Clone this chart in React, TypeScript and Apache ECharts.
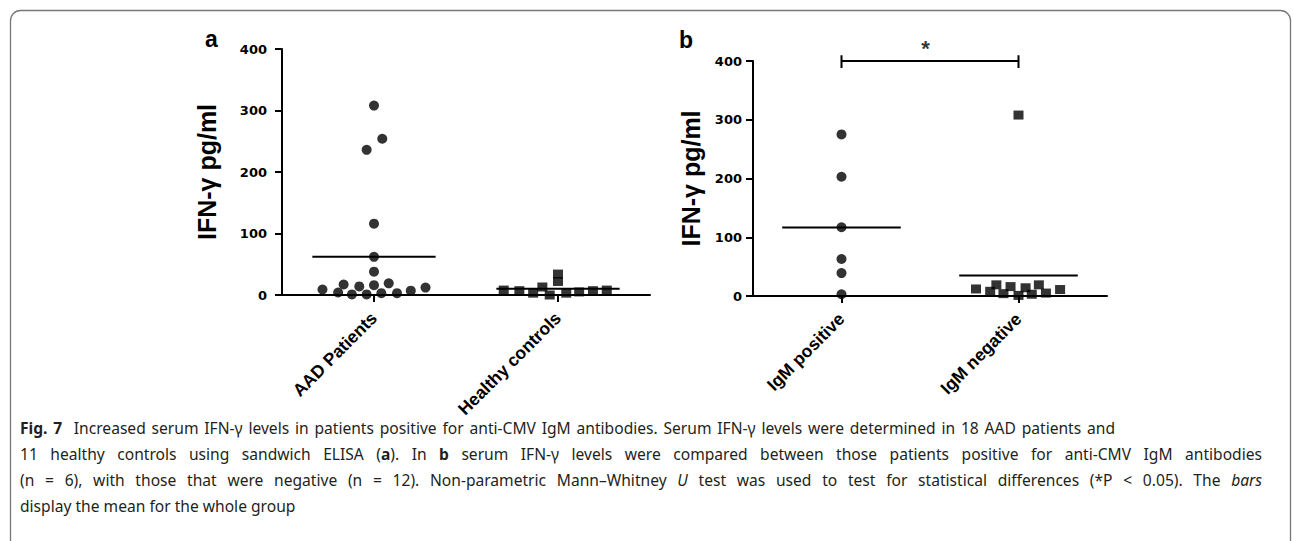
import React, { useEffect, useRef } from 'react';
import * as echarts from 'echarts';

// ---- data ----
const panelACategories = ['AAD Patients', 'Healthy controls'];
const panelBCategories = ['IgM positive', 'IgM negative'];
const yTickValues = [0, 100, 200, 300, 400];

const aadPatients = [308, 254, 236, 116, 62, 38, 9, 4, 17, 1, 14, 1, 16, 3, 19, 3, 7, 12];
const healthyControls = [8, 7, 3, 13, 0, 34, 22, 3, 5, 7, 8];
const igmPositive = [275, 203, 117, 63, 39, 3];
const igmNegative = [308, 12, 8, 19, 4, 16, 1, 14, 3, 19, 5, 11];

// horizontal dodge of overlapping points (in category widths)
const aadDodge = [0, 0.09, -0.08, 0, 0, 0, -0.56, -0.39, -0.33, -0.24, -0.16, -0.08, 0, 0.08, 0.16, 0.25, 0.4, 0.56];
const healthyDodge = [-0.59, -0.42, -0.27, -0.17, -0.09, 0, 0, 0.09, 0.23, 0.38, 0.53];
const igmPositiveDodge = [0, 0, 0, 0, 0, 0];
const igmNegativeDodge = [0, -0.48, -0.32, -0.25, -0.17, -0.09, 0, 0.08, 0.15, 0.23, 0.31, 0.47];

const significanceLevel = 400;
const significanceLabel = '*';
const yAxisTitle = 'IFN-γ pg/ml';

const captionLines = [
  '{b|Fig. 7}  Increased serum IFN-γ levels in patients positive for anti-CMV IgM antibodies. Serum IFN-γ levels were determined in 18 AAD patients and',
  '11 healthy controls using sandwich ELISA ({b|a}). In {b|b} serum IFN-γ levels were compared between those patients positive for anti-CMV IgM antibodies',
  '(n = 6), with those that were negative (n = 12). Non-parametric Mann–Whitney {i|U} test was used to test for statistical differences (*P < 0.05). The {i|bars}',
  'display the mean for the whole group',
];
// right edge each caption line is justified to (null = natural spacing)
const captionLineEnds = [1115, 1262, 1262, null];

// ---- helpers ----
const CAT_POS = [1, 3];
const MEAN_HALF = 0.67;
const mean = (a: number[]) => a.reduce((s, v) => s + v, 0) / a.length;

const TICK_FONT = '"DejaVu Sans", sans-serif';
const LABEL_FONT = '"Liberation Sans", Arial, sans-serif';
const CAPTION_FONT_NAME = 'Noto Sans';
const CAPTION_SIZE = 15.6;
const CAPTION_COLOR = '#231f20';

function points(values: number[], dodge: number[], cat: number) {
  return values.map((v, i) => [CAT_POS[cat] + dodge[i], v]);
}

function scatter(name: string, values: number[], dodge: number[], cat: number, symbol: string, xIdx: number, yIdx: number) {
  return {
    name,
    type: 'scatter',
    xAxisIndex: xIdx,
    yAxisIndex: yIdx,
    symbol,
    symbolSize: symbol === 'rect' ? [10, 9] : 10,
    itemStyle: { color: '#000' },
    data: points(values, dodge, cat),
    z: 3,
  };
}

function meanLine(values: number[], cat: number, xIdx: number, yIdx: number) {
  const m = mean(values);
  return {
    type: 'line',
    xAxisIndex: xIdx,
    yAxisIndex: yIdx,
    symbol: 'none',
    lineStyle: { color: '#000', width: 2 },
    data: [[CAT_POS[cat] - MEAN_HALF, m], [CAT_POS[cat] + MEAN_HALF, m]],
    z: 2,
  };
}

function yAxis(gridIndex: number, nameGap: number, margin: number) {
  return {
    type: 'value',
    gridIndex,
    min: yTickValues[0],
    max: yTickValues[yTickValues.length - 1],
    interval: 100,
    name: yAxisTitle,
    nameLocation: 'middle',
    nameGap,
    nameRotate: 90,
    nameTextStyle: { fontFamily: LABEL_FONT, fontWeight: 'bold', fontSize: 25, color: '#000' },
    axisLine: { show: true, lineStyle: { color: '#000', width: 2 } },
    axisTick: { show: true, length: 7, lineStyle: { color: '#000', width: 2 } },
    axisLabel: { margin, fontFamily: TICK_FONT, fontWeight: 'bold', fontSize: 13, color: '#000' },
    splitLine: { show: false },
  };
}

function catAxis(gridIndex: number, cats: string[]) {
  return {
    type: 'category',
    gridIndex,
    data: cats,
    boundaryGap: true,
    axisLine: { show: true, onZero: false, lineStyle: { color: '#000', width: 2 } },
    axisTick: { show: true, alignWithLabel: true, length: 7, lineStyle: { color: '#000', width: 2 } },
    axisLabel: { interval: 0, rotate: 45, margin: 20, fontFamily: LABEL_FONT, fontWeight: 'bold', fontSize: 17.5, color: '#000' },
    splitLine: { show: false },
  };
}

function valueXAxis(gridIndex: number) {
  return { type: 'value', gridIndex, min: 0, max: 4, show: false, splitLine: { show: false } };
}

type Run = { text: string; style: string };

function parseLine(line: string): Run[] {
  const runs: Run[] = [];
  const re = /\{(b|i)\|([^}]*)\}/g;
  let last = 0;
  let m: RegExpExecArray | null;
  while ((m = re.exec(line))) {
    if (m.index > last) runs.push({ text: line.slice(last, m.index), style: 'n' });
    runs.push({ text: m[2], style: m[1] });
    last = re.lastIndex;
  }
  if (last < line.length) runs.push({ text: line.slice(last), style: 'n' });
  return runs;
}

function fontOf(style: string) {
  return `${style === 'i' ? 'italic ' : ''}${style === 'b' ? 'bold ' : ''}${CAPTION_SIZE}px "${CAPTION_FONT_NAME}"`;
}

function captionGraphics() {
  const ctx = document.createElement('canvas').getContext('2d')!;
  const measure = (text: string, style: string) => {
    ctx.font = fontOf(style);
    return ctx.measureText(text).width;
  };
  const spaceW = measure(' ', 'n');
  const els: any[] = [];
  captionLines.forEach((line, li) => {
    const words: Run[][] = [[]];
    for (const r of parseLine(line)) {
      r.text.split(' ').forEach((p, k) => {
        if (k > 0) words.push([]);
        if (p) words[words.length - 1].push({ text: p, style: r.style });
      });
    }
    const widths = words.map((w) => w.reduce((s, r) => s + measure(r.text, r.style), 0));
    const total = widths.reduce((s, v) => s + v, 0);
    const end = captionLineEnds[li];
    const gap = end != null && words.length > 1 ? Math.max(spaceW * 0.8, (end - 20 - total) / (words.length - 1)) : spaceW;
    let x = 20;
    const y = 419.5 + li * 26.3;
    words.forEach((w, wi) => {
      let rx = x;
      w.forEach((r) => {
        els.push({
          type: 'text',
          x: rx,
          y,
          silent: true,
          style: {
            text: r.text,
            fontFamily: `"${CAPTION_FONT_NAME}", sans-serif`,
            fontSize: CAPTION_SIZE,
            fontWeight: r.style === 'b' ? 'bold' : 'normal',
            fontStyle: r.style === 'i' ? 'italic' : 'normal',
            fill: CAPTION_COLOR,
          },
        });
        rx += measure(r.text, r.style);
      });
      x += widths[wi] + gap;
    });
  });
  return els;
}

export default function App() {
  const ref = useRef<HTMLDivElement>(null);
  useEffect(() => {
    if (!ref.current) return;
    const chart = echarts.init(ref.current, undefined, { renderer: 'svg' });
    chart.setOption({
      animation: false,
      backgroundColor: '#fff',
      grid: [
        { left: 282, top: 49, width: 368, height: 246 },
        { left: 753, top: 61, width: 354, height: 235 },
      ],
      xAxis: [catAxis(0, panelACategories), valueXAxis(0), catAxis(1, panelBCategories), valueXAxis(1)],
      yAxis: [yAxis(0, 63, 15), yAxis(1, 50, 11)],
      series: [
        scatter('AAD Patients', aadPatients, aadDodge, 0, 'circle', 1, 0),
        meanLine(aadPatients, 0, 1, 0),
        scatter('Healthy controls', healthyControls, healthyDodge, 1, 'rect', 1, 0),
        meanLine(healthyControls, 1, 1, 0),
        scatter('IgM positive', igmPositive, igmPositiveDodge, 0, 'circle', 3, 1),
        meanLine(igmPositive, 0, 3, 1),
        scatter('IgM negative', igmNegative, igmNegativeDodge, 1, 'rect', 3, 1),
        meanLine(igmNegative, 1, 3, 1),
        {
          type: 'line',
          xAxisIndex: 3,
          yAxisIndex: 1,
          symbol: 'none',
          clip: false,
          lineStyle: { color: '#000', width: 2 },
          data: [
            [CAT_POS[0], significanceLevel + 10],
            [CAT_POS[0], significanceLevel - 12],
            [CAT_POS[0], significanceLevel],
            [CAT_POS[1], significanceLevel],
            [CAT_POS[1], significanceLevel + 10],
            [CAT_POS[1], significanceLevel - 12],
          ],
          z: 2,
        },
        {
          type: 'scatter',
          xAxisIndex: 3,
          yAxisIndex: 1,
          symbolSize: 0,
          clip: false,
          data: [[(CAT_POS[0] + CAT_POS[1]) / 2 - 0.05, significanceLevel]],
          label: {
            show: true,
            position: 'top',
            distance: 2,
            formatter: significanceLabel,
            fontFamily: LABEL_FONT,
            fontWeight: 'bold',
            fontSize: 22,
            color: '#000',
          },
        },
      ],
      graphic: [
        {
          type: 'rect',
          shape: { x: 10.5, y: 10.5, width: 1280, height: 560, r: 10 },
          style: { fill: 'none', stroke: '#777', lineWidth: 1.3 },
          silent: true,
        },
        {
          type: 'text',
          left: 205,
          top: 27,
          style: { text: 'a', fontFamily: LABEL_FONT, fontWeight: 'bold', fontSize: 23, fill: '#000' },
        },
        {
          type: 'text',
          left: 679,
          top: 28,
          style: { text: 'b', fontFamily: LABEL_FONT, fontWeight: 'bold', fontSize: 23, fill: '#000' },
        },
        ...captionGraphics(),
      ],
    });
    return () => chart.dispose();
  }, []);
  return (
    <div
      ref={ref}
      style={{ position: 'absolute', left: 0, top: 0, width: 1293, height: 541, background: '#fff' }}
    />
  );
}
